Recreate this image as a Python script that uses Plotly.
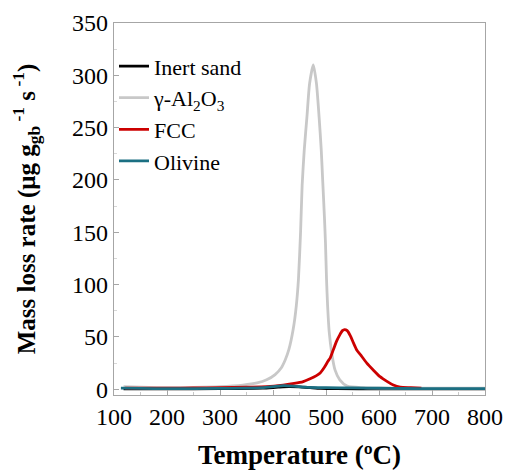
import plotly.graph_objects as go

# Mass loss rate curves (µg g_gb^-1 s^-1) versus temperature (°C)
sand_T = [118, 200, 300, 380, 410, 430, 450, 470, 490, 520, 600, 700, 800]
sand_v = [0.3, 0.3, 0.5, 1.0, 2.0, 2.5, 2.2, 1.5, 0.8, 0.5, 0.4, 0.3, 0.3]

alumina_T = [118, 150, 200, 250, 300, 343, 370, 388, 404, 415, 423, 430, 438, 444,
             448, 452, 455, 459, 464, 469, 476, 482, 487, 491, 494, 497, 499, 501,
             503, 506, 511, 517, 526, 540, 570, 650, 800]
alumina_v = [2.5, 2.0, 1.5, 1.8, 2.5, 4.0, 6.0, 9.0, 14, 20, 28, 38, 57, 80,
             105, 150, 195, 229, 260, 292, 310, 292, 260, 229, 197, 165, 140, 105,
             80, 55, 34, 18.5, 9.0, 3.0, 1.5, 1.0, 1.0]

fcc_T = [121, 150, 200, 250, 300, 350, 388, 419, 440, 457, 470, 482, 489, 497,
         504, 508, 514, 520, 526, 531, 535, 540, 546, 552, 558, 565, 577, 590,
         602, 615, 627, 640, 660, 680]
fcc_v = [1.0, 1.0, 1.0, 1.2, 1.5, 2.0, 2.5, 4.0, 5.5, 7.3, 10, 13, 15.5, 21,
         27, 30, 38, 46, 52, 56, 57, 56, 51, 44, 37.6, 33, 25, 18,
         12, 7.5, 4.0, 2.0, 1.5, 1.0]

olivine_T = [113, 150, 200, 300, 380, 400, 420, 440, 460, 500, 550, 600, 650, 700, 800]
olivine_v = [1.0, 0.8, 0.6, 0.8, 1.5, 2.5, 3.5, 3.0, 2.0, 1.5, 1.3, 1.0, 0.7, 0.5, 0.5]

series = [
    ("Inert sand", sand_T, sand_v, "#000000"),
    ("\u03b3-Al<sub>2</sub>O<sub>3</sub>", alumina_T, alumina_v, "#c8c8c8"),
    ("FCC", fcc_T, fcc_v, "#cc0000"),
    ("Olivine", olivine_T, olivine_v, "#1b6f82"),
]

serif = "'Liberation Serif', 'DejaVu Serif', serif"

fig = go.Figure()
for name, xs, ys, color in series:
    fig.add_trace(go.Scatter(
        x=xs, y=ys, name=name, mode="lines",
        line=dict(color=color, width=2.8, shape="spline", smoothing=0.6),
    ))

axis_common = dict(
    showline=True, linecolor="#a6a6a6", linewidth=1.2, mirror=True,
    ticks="inside", ticklen=5, tickcolor="#a6a6a6", tickwidth=1,
    showgrid=False, zeroline=False, automargin=False,
    tickfont=dict(family=serif, size=24, color="#000000"),
)

fig.update_xaxes(
    range=[100, 800], dtick=100, tick0=100,
    minor=dict(dtick=50, ticks="inside", ticklen=3, tickcolor="#c8c8c8"),
    title=dict(text="<b>Temperature (\u00baC)</b>", standoff=18,
               font=dict(family=serif, size=27, color="#000000")),
    **axis_common,
)
fig.update_yaxes(
    range=[-5.5, 350], dtick=50, tick0=0,
    minor=dict(dtick=25, ticks="inside", ticklen=3, tickcolor="#d8d8d8"),
    title=dict(text="<b>Mass loss rate (\u03bcg g<sub>gb</sub><sup> -1</sup> s<sup> -1</sup>)</b>",
               standoff=29, font=dict(family=serif, size=25, color="#000000")),
    **axis_common,
)

fig.update_layout(
    width=506, height=470,
    margin=dict(l=114, r=21, t=23, b=75),
    paper_bgcolor="white", plot_bgcolor="white",
    showlegend=True,
    legend=dict(
        x=0.0, y=0.94, xanchor="left", yanchor="top",
        bgcolor="rgba(0,0,0,0)", borderwidth=0,
        font=dict(family=serif, size=22, color="#000000"),
        itemwidth=30, tracegroupgap=0,
    ),
)

fig.write_html("out.html")
